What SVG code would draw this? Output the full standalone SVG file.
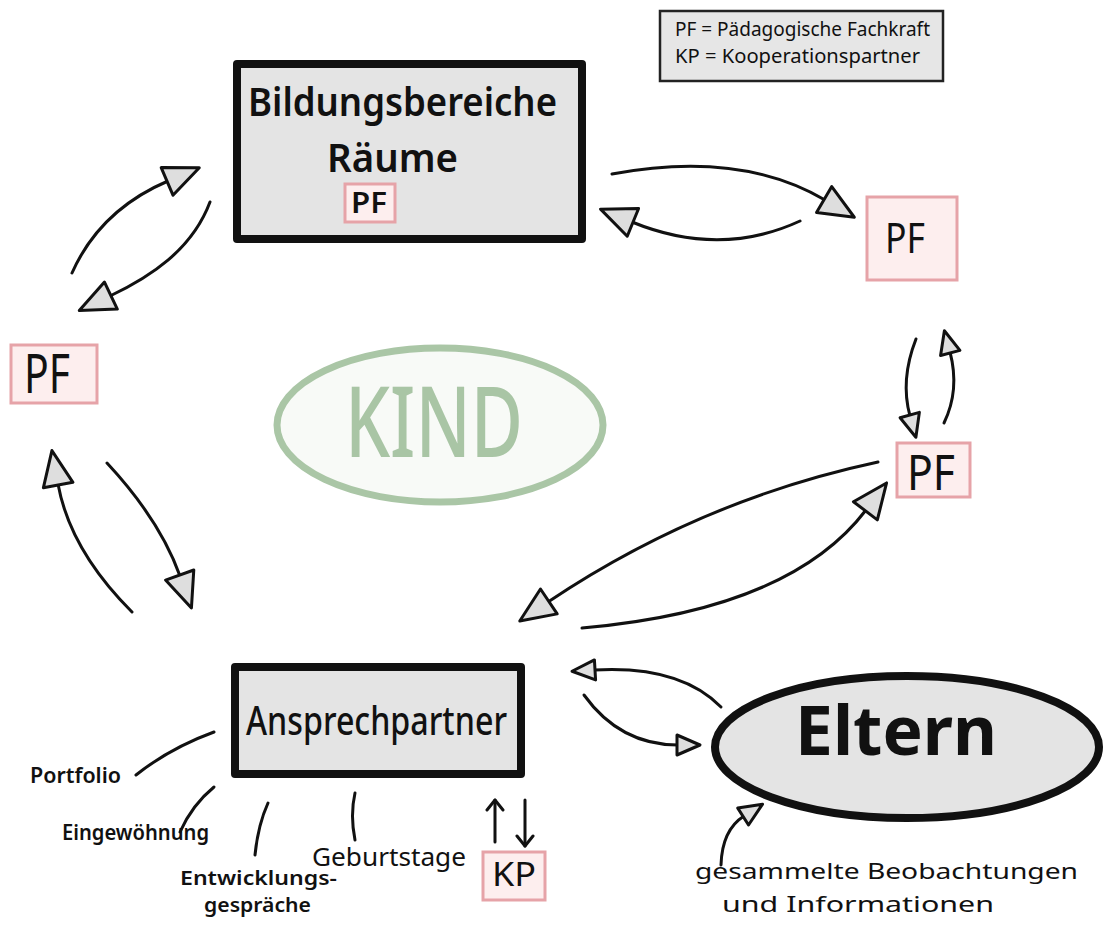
<svg xmlns="http://www.w3.org/2000/svg" width="1104" height="928" viewBox="0 0 1104 928">
  <style>
    .hand { font-family: "Noto Sans", "DejaVu Sans", sans-serif; fill: #111; }
    .box { fill: #e4e4e4; stroke: #111; stroke-width: 8; stroke-linejoin: round; }
    .pf { fill: #fdeeee; stroke: #e6a3a8; stroke-width: 3; }
    .con { fill: none; stroke: #111; stroke-width: 3; stroke-linecap: round; }
  </style>
  <defs>
    <marker id="triL" markerUnits="userSpaceOnUse" markerWidth="44" markerHeight="40" viewBox="0 0 44 40" refX="4" refY="20" orient="auto">
      <path d="M3,5 L38,20 L3,35 Z" fill="#dedede" stroke="#111" stroke-width="3" stroke-linejoin="round"/>
    </marker>
    <marker id="triS" markerUnits="userSpaceOnUse" markerWidth="30" markerHeight="28" viewBox="0 0 30 28" refX="3" refY="14" orient="auto">
      <path d="M2,4 L25,14 L2,24 Z" fill="#dedede" stroke="#111" stroke-width="3" stroke-linejoin="round"/>
    </marker>
    <marker id="vee" markerUnits="userSpaceOnUse" markerWidth="20" markerHeight="20" viewBox="0 0 20 20" refX="14" refY="10" orient="auto">
      <path d="M4,2 L14,10 L4,18" fill="none" stroke="#111" stroke-width="3" stroke-linecap="round" stroke-linejoin="round"/>
    </marker>
  </defs>
  <rect width="1104" height="928" fill="#ffffff"/>

  <g id="legend">
    <rect x="660" y="11" width="283" height="70" fill="#e6e6e6" stroke="#222" stroke-width="2.5"/>
    <text class="hand" x="675" y="36" font-size="19" textLength="255" lengthAdjust="spacingAndGlyphs">PF = Pädagogische Fachkraft</text>
    <text class="hand" x="675" y="63" font-size="19" textLength="245" lengthAdjust="spacingAndGlyphs">KP = Kooperationspartner</text>
  </g>

  <g id="kind">
    <ellipse cx="440" cy="425" rx="163" ry="77" fill="#f8faf7" stroke="#aac6a6" stroke-width="7"/>
    <text x="434" y="457" font-family="Noto Sans, DejaVu Sans, sans-serif" font-size="98" font-weight="500" fill="#a9c5a5" text-anchor="middle" textLength="178" lengthAdjust="spacingAndGlyphs">KIND</text>
  </g>

  <g id="bildungsbereiche">
    <rect class="box" x="237" y="64" width="345" height="175"/>
    <text class="hand" x="248" y="116" font-size="40" font-weight="600" textLength="309" lengthAdjust="spacingAndGlyphs">Bildungsbereiche</text>
    <text class="hand" x="327" y="172" font-size="40" font-weight="600" textLength="131" lengthAdjust="spacingAndGlyphs">Räume</text>
    <rect class="pf" x="345" y="184" width="50" height="38"/>
    <text class="hand" x="369" y="213" font-size="28" font-weight="600" text-anchor="middle" textLength="36" lengthAdjust="spacingAndGlyphs">PF</text>
  </g>

  <g id="pf-left">
    <rect class="pf" x="11" y="345" width="86" height="58"/>
    <text class="hand" x="47" y="393" font-size="54" text-anchor="middle" textLength="46" lengthAdjust="spacingAndGlyphs">PF</text>
  </g>

  <g id="pf-top-right">
    <rect class="pf" x="867" y="197" width="90" height="83"/>
    <text class="hand" x="905" y="253" font-size="42" text-anchor="middle" textLength="40" lengthAdjust="spacingAndGlyphs">PF</text>
  </g>

  <g id="pf-mid-right">
    <rect class="pf" x="897" y="443" width="73" height="54"/>
    <text class="hand" x="931" y="490" font-size="50" text-anchor="middle" textLength="48" lengthAdjust="spacingAndGlyphs">PF</text>
  </g>

  <g id="ansprechpartner">
    <rect class="box" x="235" y="667" width="286" height="107"/>
    <text class="hand" x="246" y="735" font-size="40" font-weight="500" textLength="261" lengthAdjust="spacingAndGlyphs">Ansprechpartner</text>
  </g>

  <g id="kp">
    <rect class="pf" x="483" y="852" width="62" height="48"/>
    <text class="hand" x="514" y="886" font-size="32" text-anchor="middle" textLength="44" lengthAdjust="spacingAndGlyphs">KP</text>
  </g>

  <g id="eltern">
    <ellipse cx="907" cy="747" rx="192" ry="71" fill="#e4e4e4" stroke="#111" stroke-width="8"/>
    <text class="hand" x="795" y="755" font-size="68" font-weight="700" textLength="202" lengthAdjust="spacingAndGlyphs">Eltern</text>
  </g>

  <g id="labels">
    <text class="hand" x="30" y="783" font-size="21" font-weight="600" textLength="91" lengthAdjust="spacingAndGlyphs">Portfolio</text>
    <text class="hand" x="62" y="840" font-size="21" font-weight="600" textLength="147" lengthAdjust="spacingAndGlyphs">Eingewöhnung</text>
    <text class="hand" x="180" y="885" font-size="19" font-weight="600" textLength="157" lengthAdjust="spacingAndGlyphs">Entwicklungs-</text>
    <text class="hand" x="204" y="912" font-size="19" font-weight="600" textLength="107" lengthAdjust="spacingAndGlyphs">gespräche</text>
    <text class="hand" x="312" y="866" font-size="25" textLength="154" lengthAdjust="spacingAndGlyphs">Geburtstage</text>
    <text class="hand" x="695" y="879" font-size="21" textLength="383" lengthAdjust="spacingAndGlyphs">gesammelte Beobachtungen</text>
    <text class="hand" x="722" y="912" font-size="21" textLength="272" lengthAdjust="spacingAndGlyphs">und Informationen</text>
  </g>

  <g id="connectors">
    <path class="con" d="M612,174 Q740,150 825,200" marker-end="url(#triL)"/>
    <path class="con" d="M800,221 Q720,258 632,222" marker-end="url(#triL)"/>
    <path class="con" d="M72,273 Q100,210 168,181" marker-end="url(#triL)"/>
    <path class="con" d="M210,202 C192,250 150,277 110,296" marker-end="url(#triL)"/>
    <path class="con" d="M132,612 Q70,550 58,484" marker-end="url(#triL)"/>
    <path class="con" d="M107,463 Q160,520 180,576" marker-end="url(#triL)"/>
    <path class="con" d="M916,339 Q900,380 910,416" marker-end="url(#triS)"/>
    <path class="con" d="M944,423 Q960,390 950,352" marker-end="url(#triS)"/>
    <path class="con" d="M878,462 Q700,500 548,602" marker-end="url(#triL)"/>
    <path class="con" d="M582,628 Q790,610 866,510" marker-end="url(#triL)"/>
    <path class="con" d="M721,707 Q680,665 594,670" marker-end="url(#triS)"/>
    <path class="con" d="M584,695 Q620,745 678,745" marker-end="url(#triS)"/>
    <path class="con" d="M721,865 Q722,830 744,816" marker-end="url(#triS)"/>
    <path class="con" d="M136,775 Q170,748 214,732"/>
    <path class="con" d="M180,832 Q192,805 214,787"/>
    <path class="con" d="M255,855 Q258,825 268,803"/>
    <path class="con" d="M355,840 Q350,815 355,793"/>
    <path class="con" d="M495,842 L495,800" marker-end="url(#vee)"/>
    <path class="con" d="M525,800 L525,846" marker-end="url(#vee)"/>
  </g>
</svg>
